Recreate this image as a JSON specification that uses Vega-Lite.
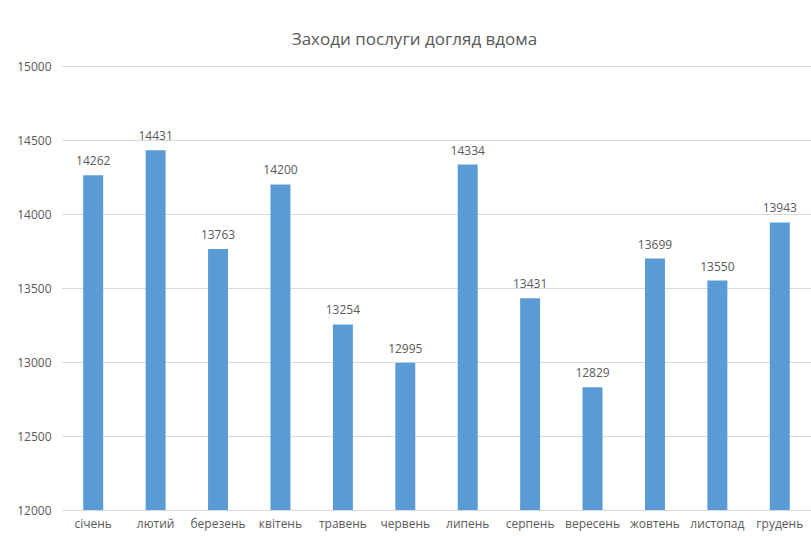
{
  "$schema": "https://vega.github.io/schema/vega-lite/v6.json",
  "autosize": {"type": "none"},
  "padding": {"left": 62, "top": 66, "right": 0, "bottom": 26},
  "width": 749,
  "height": 444,
  "background": "white",
  "title": {
    "text": "Заходи послуги догляд вдома",
    "font": "Open Sans",
    "fontSize": 17,
    "fontWeight": "normal",
    "color": "#595959",
    "anchor": "middle",
    "dx": -22,
    "offset": 11
  },
  "data": {
    "values": [
      {"month": "січень", "value": 14262},
      {"month": "лютий", "value": 14431},
      {"month": "березень", "value": 13763},
      {"month": "квітень", "value": 14200},
      {"month": "травень", "value": 13254},
      {"month": "червень", "value": 12995},
      {"month": "липень", "value": 14334},
      {"month": "серпень", "value": 13431},
      {"month": "вересень", "value": 12829},
      {"month": "жовтень", "value": 13699},
      {"month": "листопад", "value": 13550},
      {"month": "грудень", "value": 13943}
    ]
  },
  "encoding": {
    "x": {
      "field": "month",
      "type": "nominal",
      "sort": null,
      "scale": {"paddingInner": 0.68, "paddingOuter": 0.34},
      "axis": {
        "title": null,
        "labelAngle": 0,
        "labelFont": "Open Sans",
        "labelFontSize": 12,
        "labelColor": "#595959",
        "labelPadding": 8,
        "ticks": false,
        "domain": false,
        "grid": false
      }
    },
    "y": {
      "field": "value",
      "type": "quantitative",
      "scale": {"domain": [12000, 15000], "zero": false, "nice": false},
      "axis": {
        "title": null,
        "values": [12000, 12500, 13000, 13500, 14000, 14500, 15000],
        "format": "d",
        "labelFont": "Open Sans",
        "labelFontSize": 12,
        "labelColor": "#595959",
        "labelPadding": 11,
        "ticks": false,
        "domain": false,
        "grid": true,
        "gridColor": "#d9d9d9",
        "gridWidth": 1
      }
    }
  },
  "layer": [
    {"mark": {"type": "bar", "color": "#5B9BD5", "clip": true}},
    {
      "mark": {
        "type": "text",
        "dy": -7,
        "font": "Open Sans",
        "fontSize": 12,
        "color": "#595959",
        "baseline": "bottom"
      },
      "encoding": {"text": {"field": "value", "type": "quantitative", "format": "d"}}
    }
  ],
  "config": {"view": {"stroke": null}}
}
